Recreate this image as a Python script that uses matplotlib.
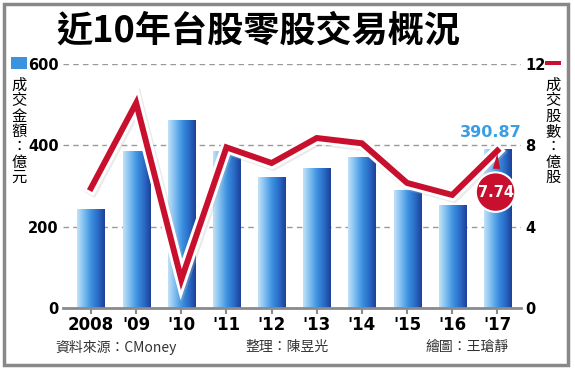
import numpy as np
import matplotlib
matplotlib.use('Agg')
import matplotlib.pyplot as plt
import matplotlib.patheffects as pe
from matplotlib.colors import LinearSegmentedColormap
from matplotlib.patches import Rectangle

plt.rcParams['font.family'] = ['Noto Sans CJK TC', 'DejaVu Sans']

years = ['2008', "'09", "'10", "'11", "'12", "'13", "'14", "'15", "'16", "'17"]
amount = [243, 386, 460, 384, 322, 344, 371, 288, 253, 390.87]   # 億元
shares = [5.9, 10.08, 1.4, 7.9, 7.13, 8.36, 8.1, 6.15, 5.56, 7.74]  # 億股
left_ticks = [0, 200, 400, 600]
right_ticks = [0, 4, 8, 12]

RED = '#c8102e'
BLUE_TXT = '#3a9ee4'
GRAY = '#8a8a8a'
num_font = ['Liberation Sans Narrow', 'DejaVu Sans']

fig = plt.figure(figsize=(5.75, 3.71), dpi=100)
ax = fig.add_axes([0.1096, 0.1698, 0.797, 0.6577])
ax2 = ax.twinx()

# bars with horizontal gradient
bar_cmap = LinearSegmentedColormap.from_list(
    'bar', ['#c4e2f8', '#7dbdf0', '#3d92e0', '#2a6cc8', '#1d3f96'])
grad = np.linspace(0, 1, 256).reshape(1, -1)
x = np.arange(len(years))
w = 0.6
for xi, h in zip(x, amount):
    ax.imshow(grad, cmap=bar_cmap, extent=(xi - w / 2, xi + w / 2, 0, h),
              aspect='auto', zorder=2, interpolation='bicubic')

ax.set_xlim(-0.62, 9.53)
ax.set_ylim(0, 600)
ax2.set_ylim(0, 12)

for y in left_ticks[1:]:
    ax.axhline(y, color='#999999', lw=1, ls=(0, (4, 3)), zorder=1)

for a in (ax, ax2):
    for s in a.spines.values():
        s.set_visible(False)
ax.spines['bottom'].set_visible(True)
ax.spines['bottom'].set_color(GRAY)
ax.spines['bottom'].set_linewidth(2)

ax.set_xticks(x)
ax.set_xticklabels(years, fontsize=12, fontweight='bold', family=num_font)
ax.tick_params(axis='x', length=4, width=1.5, color=GRAY, pad=2)
ax.set_yticks(left_ticks)
ax.set_yticklabels([str(t) for t in left_ticks], fontsize=10.5, fontweight='bold', family=num_font)
ax.tick_params(axis='y', length=0, pad=3)
ax2.set_yticks(right_ticks)
ax2.set_yticklabels([str(t) for t in right_ticks], fontsize=10.5, fontweight='bold', family=num_font)
ax2.tick_params(axis='y', length=0, pad=3)

# line with white outline
ax2.plot(x, shares, color=RED, lw=4.3, solid_joinstyle='miter', zorder=5,
         path_effects=[pe.SimpleLineShadow(offset=(1, -1), shadow_color='#bbbbbb', linewidth=9),
                       pe.Stroke(linewidth=8.5, foreground='white'), pe.Normal()])

# callouts
ax.text(8.85, 432, '390.87', color=BLUE_TXT, fontsize=11.5, fontweight='bold',
        family=num_font, ha='center', va='center', zorder=6)
ax2.annotate('7.74', xy=(x[-1], shares[-1]), xytext=(8.96, 5.7),
             color='white', fontsize=10.5, fontweight='bold', family=num_font,
             ha='center', va='center', zorder=7,
             bbox=dict(boxstyle='circle,pad=0.12', fc=RED, ec='white', lw=1.5),
             arrowprops=dict(arrowstyle='wedge,tail_width=0.5,shrink_factor=0.5',
                             fc=RED, ec='none'))

# title
fig.text(0.449, 0.916, '近10年台股零股交易概況', fontsize=26, fontweight='bold',
         ha='center', va='center')

# axis legends
fig.patches.append(Rectangle((11 / 575, 1 - 69 / 371), 16 / 575, 12 / 371,
                             transform=fig.transFigure, fc='#3d92e0', ec='none'))
fig.patches.append(Rectangle((545 / 575, 1 - 65 / 371), 16 / 575, 4 / 371,
                             transform=fig.transFigure, fc=RED, ec='none'))
fig.text(19 / 575, 1 - 77 / 371, '\n'.join('成交金額：億元'), fontsize=11,
         ha='center', va='top', linespacing=0.87)
fig.text(553 / 575, 1 - 77 / 371, '\n'.join('成交股數：億股'), fontsize=11,
         ha='center', va='top', linespacing=0.87)

# footer
fig.text(55 / 575, 1 - 347 / 371, '資料來源：CMoney', fontsize=10, color='#333333',
         ha='left', va='center')
fig.text(245 / 575, 1 - 347 / 371, '整理：陳昱光', fontsize=10, color='#333333',
         ha='left', va='center')
fig.text(425 / 575, 1 - 347 / 371, '繪圖：王瑲靜', fontsize=10, color='#333333',
         ha='left', va='center')

# frame
fig.patches.append(Rectangle((4 / 575, 1 - 365 / 371), 564 / 575, 361 / 371,
                             transform=fig.transFigure, fc='none', ec='#888888', lw=2.5))

fig.savefig('out.png', dpi=100)
